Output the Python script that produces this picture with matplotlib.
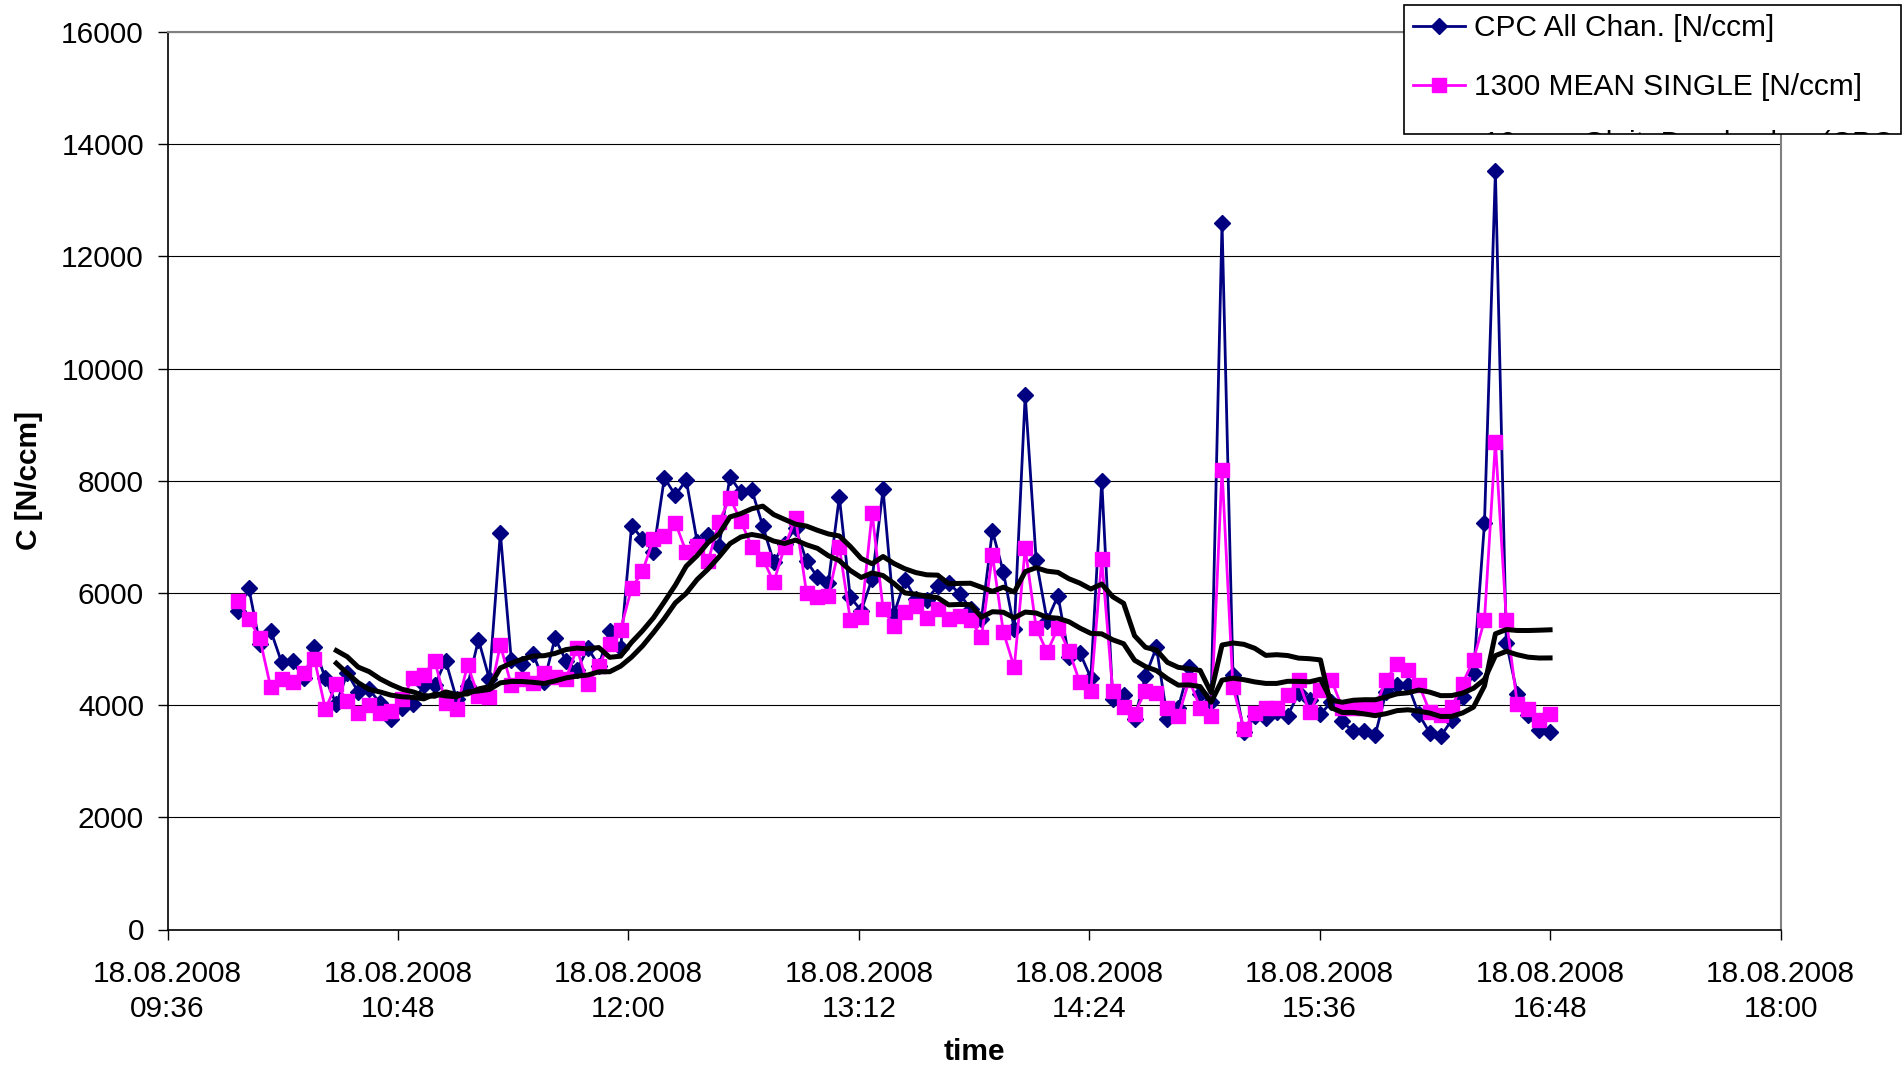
import numpy as np
import pandas as pd
import matplotlib
matplotlib.use("Agg")
import matplotlib.pyplot as plt
import matplotlib.dates as mdates
from matplotlib.patches import Rectangle

plt.rcParams['font.family'] = ['Liberation Sans', 'DejaVu Sans']

# readings, one every ~3.4 min from 09:58 to 16:48
cpc_all = [
    5675, 6086, 5090, 5328, 4762, 4791, 4476, 5030, 4476, 4016,
    4571, 4237, 4285, 4034, 3760, 3950, 4016, 4356, 4356, 4791,
    4106, 4344, 5167, 4464, 7070, 4809, 4732, 4911, 4415, 5197,
    4791, 4620, 5020, 4700, 5328, 5018, 7195, 6968, 6730, 8054,
    7743, 8012, 6909, 7028, 6837, 8072, 7791, 7833, 7195, 6551,
    6879, 7160, 6569, 6283, 6181, 7714, 5925, 5686, 6253, 7845,
    5627, 6222, 5895, 5883, 6122, 6181, 5984, 5716, 5537, 7106,
    6373, 5358, 9534, 6590, 5507, 5954, 4852, 4935, 4485, 8000,
    4115, 4175, 3760, 4517, 5031, 3760, 3957, 4673, 4195, 4047,
    12600, 4540, 3520, 3800, 3778, 3879, 3807, 4213, 4090, 3837,
    4057, 3710, 3530, 3539, 3462, 4230, 4350, 4365, 3836, 3505,
    3445, 3731, 4150, 4572, 7240, 13520, 5110, 4200, 3828, 3560,
    3517,
]
mean_single = [
    5864, 5537, 5192, 4315, 4464, 4404, 4571, 4821, 3927, 4374,
    4076, 3855, 4000, 3855, 3897, 4110, 4476, 4545, 4790, 4040,
    3927, 4714, 4160, 4136, 5072, 4356, 4470, 4400, 4580, 4500,
    4470, 5013, 4374, 4702, 5090, 5346, 6086, 6383, 6956, 7016,
    7254, 6730, 6837, 6563, 7267, 7696, 7278, 6820, 6610, 6194,
    6820, 7338, 6002, 5925, 5954, 6820, 5525, 5567, 7428, 5716,
    5406, 5657, 5775, 5549, 5716, 5537, 5596, 5525, 5209, 6682,
    5305, 4673, 6800, 5380, 4941, 5380, 4970, 4405, 4254, 6598,
    4254, 3966, 3850, 4254, 4225, 3957, 3800, 4445, 3957, 3807,
    8194, 4315, 3582, 3855, 3957, 3957, 4177, 4440, 3870, 4272,
    4451, 3950, 3940, 3950, 3950, 4445, 4740, 4635, 4365, 3884,
    3828, 3966, 4382, 4813, 5515, 8690, 5520, 4024, 3928, 3731,
    3845,
]
t_start = "2008-08-18 09:58:00"
t_step = "205s"
ma_period = 10

labels = ["CPC All Chan. [N/ccm]", "1300 MEAN SINGLE [N/ccm]"]
hidden_label = "10 per. Gleit. Durchschn. (CPC All Chan. [N/ccm])"

times = pd.date_range(t_start, periods=len(cpc_all), freq=t_step)
x_ticks = pd.date_range("2008-08-18 09:36", "2008-08-18 18:00", freq="72min")
y_ticks = np.arange(0, 16001, 2000)

W, H = 1903, 1067
fig = plt.figure(figsize=(W / 100, H / 100), dpi=100)
ax = fig.add_axes([167.5 / W, 1 - 929.5 / H, (1780.5 - 167.5) / W, (929.5 - 32) / H])

l1, = ax.plot(times, cpc_all, color='#000080', lw=2.0, marker='D', ms=8.5, zorder=3)
l2, = ax.plot(times, mean_single, color='#FF00FF', lw=2.0, marker='s', ms=10,
              mec='#FF00FF', zorder=4)
# Excel style moving average trendlines
ax.plot(times, pd.Series(cpc_all).rolling(ma_period).mean(), color='black', lw=3.6, zorder=5)
ax.plot(times, pd.Series(mean_single).rolling(ma_period).mean(), color='black', lw=3.6, zorder=5)

ax.set_xlim(x_ticks[0], x_ticks[-1])
ax.set_xticks(x_ticks)
ax.xaxis.set_major_formatter(mdates.DateFormatter('%d.%m.%Y\n%H:%M'))
ax.set_ylim(0, 16000)
ax.set_yticks(y_ticks)

ax.yaxis.grid(True, color='black', lw=0.8)
ax.set_axisbelow(True)
for s in ['left', 'bottom']:
    ax.spines[s].set_color('black')
    ax.spines[s].set_linewidth(1.2)
for s in ['top', 'right']:
    ax.spines[s].set_color('#808080')
    ax.spines[s].set_linewidth(1.5)

ax.tick_params(axis='both', direction='out', length=7, width=1, labelsize=21.5)
ax.tick_params(axis='y', pad=10)
ax.tick_params(axis='x', pad=15)
for lbl in ax.get_xticklabels():
    lbl.set_linespacing(1.3)

ax.set_ylabel('C [N/ccm]', fontsize=21.5, fontweight='bold', va='center')
ax.set_xlabel('time', fontsize=21.5, fontweight='bold', va='center')
ax.yaxis.set_label_coords((29 - 167.5) / 1613, 0.5)
ax.xaxis.set_label_coords(0.5, (929.5 - 1052) / 897.5)

# legend box sticking out over the top right corner
box = Rectangle((1404 / W, 1 - 133.5 / H), 497 / W, 128.5 / H, transform=fig.transFigure,
                facecolor='white', edgecolor='black', lw=1.2, zorder=3)
fig.add_artist(box)
fig.legend([l1, l2], labels, loc='upper left', bbox_to_anchor=(1413 / W, 1 - 14.5 / H),
           bbox_transform=fig.transFigure, frameon=False, fontsize=21.5,
           handlelength=1.75, handletextpad=0.3, labelspacing=1.03,
           borderpad=0, borderaxespad=0)
t = fig.text(1483 / W, 1 - 130 / H, hidden_label, va='top', fontsize=21.5, zorder=4)
t.set_clip_path(box)

plt.savefig("out.png", dpi=100)
